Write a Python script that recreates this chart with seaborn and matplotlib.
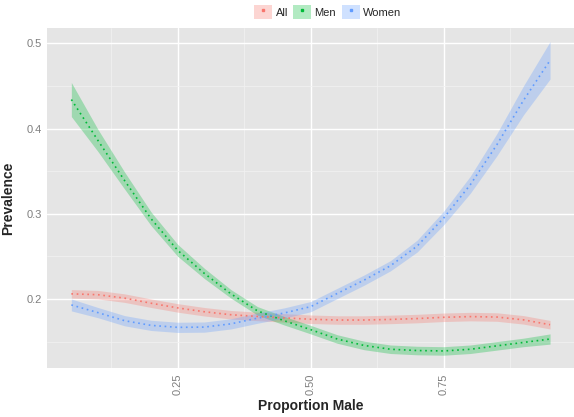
import numpy as np
import pandas as pd
import seaborn as sns
import matplotlib.pyplot as plt
from matplotlib.patches import Patch
from matplotlib.lines import Line2D

# data
prop_male = [0.05, 0.10, 0.15, 0.20, 0.25, 0.30, 0.35, 0.40, 0.45, 0.50,
             0.55, 0.60, 0.65, 0.70, 0.75, 0.80, 0.85, 0.90, 0.95]

all_fit = [0.206, 0.205, 0.201, 0.195, 0.1895, 0.185, 0.1815, 0.1795, 0.1778, 0.1762,
           0.1753, 0.1753, 0.176, 0.177, 0.1785, 0.1793, 0.1788, 0.1755, 0.1698]
all_se = [0.005] * 19

men_fit = [0.434, 0.386, 0.339, 0.294, 0.257, 0.230, 0.206, 0.186, 0.1745, 0.164,
           0.153, 0.1455, 0.141, 0.1395, 0.139, 0.141, 0.145, 0.149, 0.153]
men_se = [0.020, 0.013, 0.010, 0.008, 0.007, 0.006, 0.005, 0.005, 0.005, 0.005,
          0.005, 0.005, 0.005, 0.005, 0.005, 0.005, 0.005, 0.005, 0.006]

women_fit = [0.193, 0.184, 0.1745, 0.169, 0.1667, 0.167, 0.1708, 0.1775, 0.1835, 0.191,
             0.2065, 0.222, 0.239, 0.262, 0.295, 0.334, 0.381, 0.433, 0.480]
women_se = [0.007, 0.006, 0.006, 0.006, 0.006, 0.006, 0.006, 0.006, 0.006, 0.006,
            0.006, 0.006, 0.006, 0.007, 0.008, 0.010, 0.013, 0.017, 0.022]

groups = ["All", "Men", "Women"]
colors = ["#F8766D", "#00BA38", "#619CFF"]

df = pd.DataFrame({
    "x": prop_male * 3,
    "y": all_fit + men_fit + women_fit,
    "se": all_se + men_se + women_se,
    "group": [g for g in groups for _ in prop_male],
})

sns.set_style("darkgrid", {"axes.facecolor": "#E5E5E5", "grid.color": "white"})
plt.rcParams["font.family"] = ["Liberation Sans", "DejaVu Sans"]

fig = plt.figure(figsize=(5.74, 4.17), dpi=100)
ax = fig.add_axes([0.0826, 0.1175, 0.9174, 0.8155])

# ribbons
for g, c in zip(groups, colors):
    d = df[df["group"] == g]
    ax.fill_between(d["x"], d["y"] - d["se"], d["y"] + d["se"],
                    color=c, alpha=0.3, linewidth=0, zorder=2)

# dotted fit lines
sns.lineplot(data=df, x="x", y="y", hue="group", palette=colors, ax=ax,
             linewidth=1.2, linestyle=(0, (1, 2.2)), legend=False, zorder=3)

ax.set_xlim(0.005, 0.995)
ax.set_ylim(0.119, 0.518)
ax.set_xticks([0.25, 0.50, 0.75])
ax.set_xticklabels(["0.25", "0.50", "0.75"], rotation=90)
ax.set_yticks([0.2, 0.3, 0.4, 0.5])
ax.set_yticklabels(["0.2", "0.3", "0.4", "0.5"])
ax.set_xticks([0.125, 0.375, 0.625, 0.875], minor=True)
ax.set_yticks([0.15, 0.25, 0.35, 0.45], minor=True)
ax.grid(which="major", color="white", linewidth=1.0)
ax.grid(which="minor", color="#F2F2F2", linewidth=0.5)
ax.tick_params(axis="both", which="major", length=2.5, width=0.6, color="#7F7F7F",
               labelcolor="#7F7F7F", labelsize=8, pad=1.5)
ax.tick_params(which="minor", length=0)
for s in ax.spines.values():
    s.set_visible(False)

ax.set_xlabel("Proportion Male", fontsize=10, fontweight="bold", labelpad=3)
ax.set_ylabel("Prevalence", fontsize=10, fontweight="bold", labelpad=8)

handles = []
for c in colors:
    handles.append((Patch(facecolor=c, alpha=0.3, edgecolor="none"),
                    Line2D([], [], color=c, marker="s", markersize=1.5, linestyle="none")))
fig.legend(handles, groups, loc="center", bbox_to_anchor=(0.571, 0.971), ncol=3,
           frameon=False, fontsize=8, handlelength=1.6, handleheight=1.6,
           handletextpad=0.3, columnspacing=0.5)

plt.savefig("out.png", dpi=100)
